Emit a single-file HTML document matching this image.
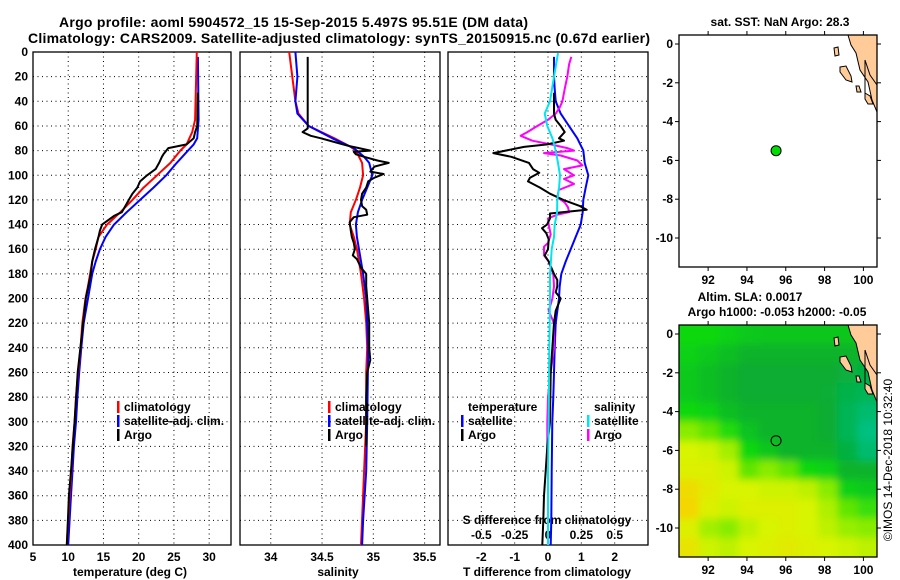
<!DOCTYPE html>
<html><head><meta charset="utf-8"><style>
body{margin:0;background:#fff;}
svg{display:block;font-family:"Liberation Sans",sans-serif;font-weight:bold;}
</style></head><body>
<svg id="c" width="900" height="580" viewBox="0 0 900 580">
<text x="59" y="27" font-size="14" textLength="469">Argo profile: aoml 5904572_15 15-Sep-2015 5.497S 95.51E (DM data)</text>
<text x="339" y="43" font-size="14" text-anchor="middle" textLength="622">Climatology: CARS2009. Satellite-adjusted climatology: synTS_20150915.nc (0.67d earlier)</text>
<text x="780" y="26" font-size="12" text-anchor="middle">sat. SST: NaN Argo: 28.3</text>
<text x="750" y="301" font-size="12" text-anchor="middle">Altim. SLA: 0.0017</text>
<text x="777" y="316" font-size="12" text-anchor="middle">Argo h1000: -0.053 h2000: -0.05</text>
<text transform="translate(892,460) rotate(-90)" font-size="12" font-weight="normal" text-anchor="middle">©IMOS 14-Dec-2018 10:32:40</text>
<g id="g"></g>
</svg>
<script>
const NS="http://www.w3.org/2000/svg";
const G=document.getElementById('g');
function mk(t,a,p){const e=document.createElementNS(NS,t);for(const k in a)e.setAttribute(k,a[k]);(p||G).appendChild(e);return e;}
function txt(x,y,s,a,p){const e=mk('text',Object.assign({x:x,y:y,'font-size':12},a||{}),p);e.textContent=s;return e;}

// ---- data ----
const depthTicks=[0,20,40,60,80,100,120,140,160,180,200,220,240,260,280,300,320,340,360,380,400];
const tempTicks=[5,10,15,20,25,30];
const salTicks=[34,34.5,35,35.5];
const tdiffTicks=[-2,-1,0,1,2];
const sdiffTicks=[-0.5,-0.25,0,0.25,0.5];

const climTdepth=[0,55,65,75,80,90,100,110,120,130,140,150,160,170,180,190,200,220,240,260,280,300,320,340,360,380,400];
const climT=[28.25,28.0,27.6,26.8,25.9,24.5,22.6,20.7,19.1,17.4,15.5,14.3,13.9,13.4,13.1,12.8,12.45,12.0,11.75,11.4,11.1,10.9,10.6,10.45,10.2,10.0,9.8];
const satTdepth=[4,55,70,75,80,90,100,110,120,130,140,150,160,170,180,190,200,220,240,260,280,300,320,340,360,380,400];
const satT=[28.4,28.5,28.3,27.8,27.0,25.4,23.9,22.1,20.2,18.3,16.5,15.3,14.5,13.9,13.4,13.1,12.8,12.2,11.85,11.55,11.3,11.1,10.8,10.6,10.4,10.2,10.0];
const argoTdepth=[33,60,65,70,75,78,83,85,90,95,100,105,110,115,120,125,130,133,140,145,150,160,170,180,200,260,300,340,360,380,400];
const argoT=[28.4,28.3,28.0,27.8,26.8,24.2,23.5,23.3,22.9,22.4,21.2,20.2,19.8,19.1,18.6,18.1,17.6,16.5,14.8,14.5,14.3,13.8,13.4,13.2,12.5,11.35,10.9,10.4,10.1,9.95,9.8];

const climSdepth=[0,20,40,50,60,70,77,80,90,100,110,120,130,140,150,160,170,180,200,220,240,260,300,340,400];
const climS=[34.18,34.21,34.24,34.27,34.37,34.62,34.78,34.83,34.89,34.90,34.87,34.83,34.78,34.77,34.81,34.84,34.86,34.88,34.91,34.93,34.94,34.93,34.93,34.91,34.88];
const satSdepth=[0,20,40,50,60,70,78,85,90,100,110,120,130,140,150,160,180,200,240,300,340,380,400];
const satS=[34.24,34.26,34.24,34.26,34.37,34.60,34.81,34.91,34.96,34.99,34.94,34.89,34.85,34.83,34.84,34.86,34.90,34.93,34.95,34.94,34.93,34.90,34.89];
const argoSdepth=[4,60,62,65,68,70,73,76,78,80,81,83,85,88,90,93,97,99,102,105,110,115,120,125,128,132,134,138,145,150,155,160,165,168,175,180,190,200,220,240,250,260,280,320];
const argoS=[34.36,34.36,34.36,34.31,34.39,34.49,34.62,34.75,34.86,34.97,34.81,34.83,34.91,35.04,35.15,35.01,34.97,35.10,35.01,34.95,34.93,34.89,34.88,34.89,34.93,34.94,34.81,34.77,34.78,34.79,34.81,34.82,34.80,34.84,34.88,34.93,34.93,34.94,34.96,34.96,34.97,34.94,34.93,34.93];

const satTdiffDepth=[4,20,30,40,50,60,70,80,90,100,110,120,130,140,150,160,170,180,190,200,220,240,260,280,300,340,380,400];
const satTdiff=[0.18,0.18,0.2,0.23,0.38,0.63,0.88,1.06,1.1,1.21,1.13,1.06,1.04,0.98,0.83,0.68,0.53,0.4,0.35,0.33,0.23,0.2,0.18,0.16,0.13,0.11,0.1,0.08];
const argoTdiffDepth=[33,50,55,60,65,70,72,75,77,82,85,90,95,98,102,105,110,115,120,125,128,131,135,140,143,147,152,160,165,170,180,185,190,195,200,210,220,260,300,320,340,360,380,400];
const argoTdiff=[0.18,0.18,0.23,0.38,0.5,0.33,0.48,-0.02,-0.72,-1.64,-1.1,-0.57,-0.45,-0.26,-0.54,-0.6,-0.24,0.06,0.46,0.96,1.16,0.06,0.06,-0.03,-0.18,-0.05,0.02,0.0,-0.1,0.02,0.18,0.28,0.28,0.23,0.38,0.23,0.18,0.08,0.06,-0.02,-0.07,-0.12,-0.14,-0.17];
const satSdiffDepth=[1,20,40,50,60,70,80,90,100,110,120,130,140,150,160,170,180,200,240,300,340,400];
const satSdiff=[0.075,0.045,0.015,-0.025,-0.005,0.033,0.058,0.075,0.09,0.083,0.07,0.068,0.05,0.045,0.028,0.022,0.015,0.015,0.01,0.005,0.0,0.0];
const argoSdiffDepth=[4,10,20,30,40,45,50,55,60,65,68,72,75,78,80,82,84,88,92,95,100,103,107,112,118,122,126,130,132,135,140,148,155,158,165,170,175,180,190,200,210,220,240,260,280,300,320];
const argoSdiff=[0.175,0.158,0.145,0.125,0.108,0.088,0.058,0.0,-0.08,-0.155,-0.205,-0.118,0.02,0.145,0.195,-0.03,0.095,0.22,0.258,0.12,0.195,0.12,0.195,0.08,0.07,0.125,0.15,0.158,0.07,0.0,0.005,0.02,0.0,-0.03,-0.03,0.005,0.02,0.04,0.045,0.033,0.005,0.045,0.045,0.02,0.0,-0.005,-0.005];

const slaField=[
[0.4,0.4,0.38,0.36,0.35,0.35,0.35,0.35,0.35,0.35],
[0.38,0.36,0.33,0.3,0.3,0.3,0.3,0.3,0.3,0.3],
[0.36,0.33,0.3,0.28,0.28,0.28,0.28,0.28,0.26,0.25],
[0.36,0.33,0.3,0.28,0.28,0.28,0.28,0.27,0.24,0.22],
[0.4,0.38,0.33,0.3,0.3,0.3,0.3,0.28,0.22,0.18],
[0.55,0.5,0.42,0.34,0.3,0.3,0.3,0.28,0.22,0.15],
[0.7,0.68,0.6,0.4,0.35,0.3,0.3,0.3,0.25,0.18],
[0.72,0.72,0.68,0.5,0.55,0.5,0.4,0.38,0.3,0.3],
[0.82,0.75,0.7,0.7,0.68,0.68,0.65,0.55,0.38,0.36],
[0.85,0.72,0.68,0.72,0.72,0.72,0.7,0.62,0.5,0.45],
[0.72,0.6,0.55,0.65,0.7,0.72,0.7,0.65,0.58,0.55],
[0.78,0.68,0.65,0.7,0.72,0.75,0.72,0.7,0.68,0.65]];
const argoLon=95.5, argoLat=-5.5;
const lonTicks=[92,94,96,98,100];
const latTicks=[0,-2,-4,-6,-8,-10];

// ---- axes ----
const Y0=52,Y1=545;
const yD=d=>Y0+(d-0)*(Y1-Y0)/400;
const P1={x0:33,x1:231,min:5,max:33.1};
const P2={x0:240,x1:440,min:33.7,max:35.65};
const P3={x0:448,x1:648,min:-3,max:3};
const sx=(P,v)=>P.x0+(v-P.min)*(P.x1-P.x0)/(P.max-P.min);

function panel(P,name,ticks,fmt,grid){
  const g=mk('g',{});
  
  
  depthTicks.forEach(d=>{ if(d>0&&d<400) mk('line',{x1:P.x0,x2:P.x1,y1:yD(d),y2:yD(d),stroke:'#000','stroke-dasharray':'1,3.5'},g);});
  grid.forEach(v=>{ mk('line',{x1:sx(P,v),x2:sx(P,v),y1:Y0,y2:Y1,stroke:'#000','stroke-dasharray':'1,3.5'},g);});
  mk('rect',{x:P.x0,y:Y0,width:P.x1-P.x0,height:Y1-Y0,fill:'none',stroke:'#000','stroke-width':1.3},g);
  ticks.forEach(v=>{const t=txt(sx(P,v),561,fmt(v),{'text-anchor':'middle'},g);
    
    });
  return g;
}
const g1=panel(P1,'temperature-panel',tempTicks,v=>String(v),[10,15,20,25,30]);
const g2=panel(P2,'salinity-panel',salTicks,v=>String(v),salTicks);
const g3=panel(P3,'difference-panel',tdiffTicks,v=>String(v),[-2,-1,0,1,2]);
depthTicks.forEach(d=>{const t=txt(28,yD(d)+4,String(d),{'text-anchor':'end'});
  
  });
txt(130,576,'temperature (deg C)',{'text-anchor':'middle'});
txt(338,576,'salinity',{'text-anchor':'middle'});
txt(547,576,'T difference from climatology',{'text-anchor':'middle'});
txt(547,524,'S difference from climatology',{'text-anchor':'middle'});
sdiffTicks.forEach(v=>{const t=txt(sx(P3,v*4),539,String(v),{'text-anchor':'middle'});
  
  });

function series(P,depths,vals,color,name,scale){
  const pts=depths.map((d,i)=>sx(P,vals[i]*(scale||1)).toFixed(1)+','+yD(d).toFixed(1)).join(' ');
  const e=mk('polyline',{points:pts,fill:'none',stroke:color,'stroke-width':2,'stroke-linejoin':'round'});
  
  
}
series(P1,satTdepth,satT,'#0000ff','satellite-temperature-line');
series(P1,climTdepth,climT,'#ff0000','climatology-temperature-line');
series(P1,argoTdepth,argoT,'#000','argo-temperature-line');
series(P2,climSdepth,climS,'#ff0000','climatology-salinity-line');
series(P2,satSdepth,satS,'#0000ff','satellite-salinity-line');
series(P2,argoSdepth,argoS,'#000','argo-salinity-line');
series(P3,satTdiffDepth,satTdiff,'#0000ff','satellite-tdiff-line');
series(P3,argoSdiffDepth,argoSdiff,'#ff00ff','argo-sdiff-line',4);
series(P3,argoTdiffDepth,argoTdiff,'#000','argo-tdiff-line');
series(P3,satSdiffDepth,satSdiff,'#00e5ee','satellite-sdiff-line',4);

function legend(x,y,color,label,name){
  const g=mk('g',{});
  
  
  mk('rect',{x:x,y:y-10,width:2.5,height:12,fill:color},g);
  txt(x+7,y,label,{},g);
}
legend(117,411,'#ff0000','climatology','legend-climatology');
legend(117,425,'#0000ff','satellite-adj. clim.','legend-satellite-adj');
legend(117,439,'#000','Argo','legend-argo');
legend(328,411,'#ff0000','climatology','legend-climatology-s');
legend(328,425,'#0000ff','satellite-adj. clim.','legend-satellite-adj-s');
legend(328,439,'#000','Argo','legend-argo-s');
txt(468,411,'temperature');
legend(461,425,'#0000ff','satellite','legend-t-satellite');
legend(461,439,'#000','Argo','legend-t-argo');
txt(594,411,'salinity');
legend(587,425,'#00e5ee','satellite','legend-s-satellite');
legend(587,439,'#ff00ff','Argo','legend-s-argo');

// ---- maps ----
const MX0=679,MX1=877,LON0=90.5,LON1=100.7;
const mx=l=>MX0+(l-LON0)*(MX1-MX0)/(LON1-LON0);
const my=(top,la)=>top+9+(0-la)*19.4;
function cmap(v){
  const stops=[[0.15,[0,192,128]],[0.28,[8,172,48]],[0.4,[16,216,16]],[0.55,[136,236,0]],[0.7,[216,244,0]],[0.85,[244,214,0]]];
  if(v<=stops[0][0])return 'rgb('+stops[0][1]+')';
  for(let i=1;i<stops.length;i++){if(v<=stops[i][0]){const a=stops[i-1],b=stops[i],f=(v-a[0])/(b[0]-a[0]);
    return 'rgb('+a[1].map((c,k)=>Math.round(c+f*(b[1][k]-c))).join(',')+')';}}
  return 'rgb('+stops[stops.length-1][1]+')';
}
const defs=mk('defs',{});
const flt=mk('filter',{id:'bl',x:'-10%',y:'-10%',width:'120%',height:'120%'},defs);
mk('feGaussianBlur',{stdDeviation:4},flt);
const cp=mk('clipPath',{id:'cp2'},defs);
mk('rect',{x:MX0,y:325,width:MX1-MX0,height:232},cp);

function coast(top,g){
  const o=top-35;
  mk('polygon',{points:`848,${35+o} 877,${35+o} 877,${112+o} 872,${100+o} 868,${82+o} 860,${70+o} 856,${53+o} 851,${45+o}`,fill:'#ffcc99',stroke:'#000','stroke-width':1},g);
  mk('polygon',{points:`840,${67+o} 846,${66+o} 851,${76+o} 852,${82+o} 846,${80+o} 840,${72+o}`,fill:'#ffcc99',stroke:'#000','stroke-width':1},g);
  mk('polygon',{points:`834,${48+o} 838,${47+o} 839,${55+o} 835,${56+o}`,fill:'#ffcc99',stroke:'#000','stroke-width':1},g);
  mk('polygon',{points:`856,${86+o} 859,${86+o} 861,${92+o} 857,${92+o}`,fill:'#ffcc99',stroke:'#000','stroke-width':1},g);
  mk('polygon',{points:`865,${93+o} 870,${96+o} 873,${104+o} 868,${104+o} 865,${99+o}`,fill:'#ffcc99',stroke:'#000','stroke-width':1},g);
  mk('line',{x1:865,y1:60+o,x2:865,y2:96+o,stroke:'#000'},g);
  mk('polyline',{points:`865,${60+o} 870,${75+o} 877,${85+o}`,fill:'none',stroke:'#000'},g);
}
function mapAxes(top,g){
  mk('rect',{x:MX0,y:top,width:MX1-MX0,height:232,fill:'none',stroke:'#000','stroke-width':1.3},g);
  lonTicks.forEach(l=>{mk('line',{x1:mx(l),x2:mx(l),y1:top,y2:top-4,stroke:'#000'},g);
    mk('line',{x1:mx(l),x2:mx(l),y1:top+232,y2:top+236,stroke:'#000'},g);
    const t=txt(mx(l),top+249,String(l),{'text-anchor':'middle'},g);
    
    });
  latTicks.forEach(la=>{mk('line',{x1:MX0,x2:MX0-4,y1:my(top,la),y2:my(top,la),stroke:'#000'},g);
    mk('line',{x1:MX1,x2:MX1+4,y1:my(top,la),y2:my(top,la),stroke:'#000'},g);
    const t=txt(MX0-6,my(top,la)+4,String(la),{'text-anchor':'end'},g);
    
    });
}
const m1=mk('g',{});


coast(35,m1);
mapAxes(35,m1);
const dot=mk('circle',{cx:mx(argoLon),cy:my(35,argoLat),r:5,fill:'#00dd00',stroke:'#000'},m1);


const m2=mk('g',{});


const field=mk('g',{'clip-path':'url(#cp2)'},m2);
const fi=mk('g',{filter:'url(#bl)'},field);
const cw=(MX1-MX0)/10,ch=232/12;
slaField.forEach((row,r)=>row.forEach((v,c)=>{
  const e=mk('rect',{x:MX0+c*cw-(c==0?12:0),y:325+r*ch-(r==0?12:0),width:cw+1+(c==0||c==9?12:0),height:ch+1+(r==0||r==11?12:0),fill:cmap(v)},fi);
  
  
}));
coast(325,m2);
mapAxes(325,m2);
const ring=mk('circle',{cx:mx(argoLon),cy:my(325,argoLat),r:5,fill:'none',stroke:'#000'},m2);


</script>
</body></html>
